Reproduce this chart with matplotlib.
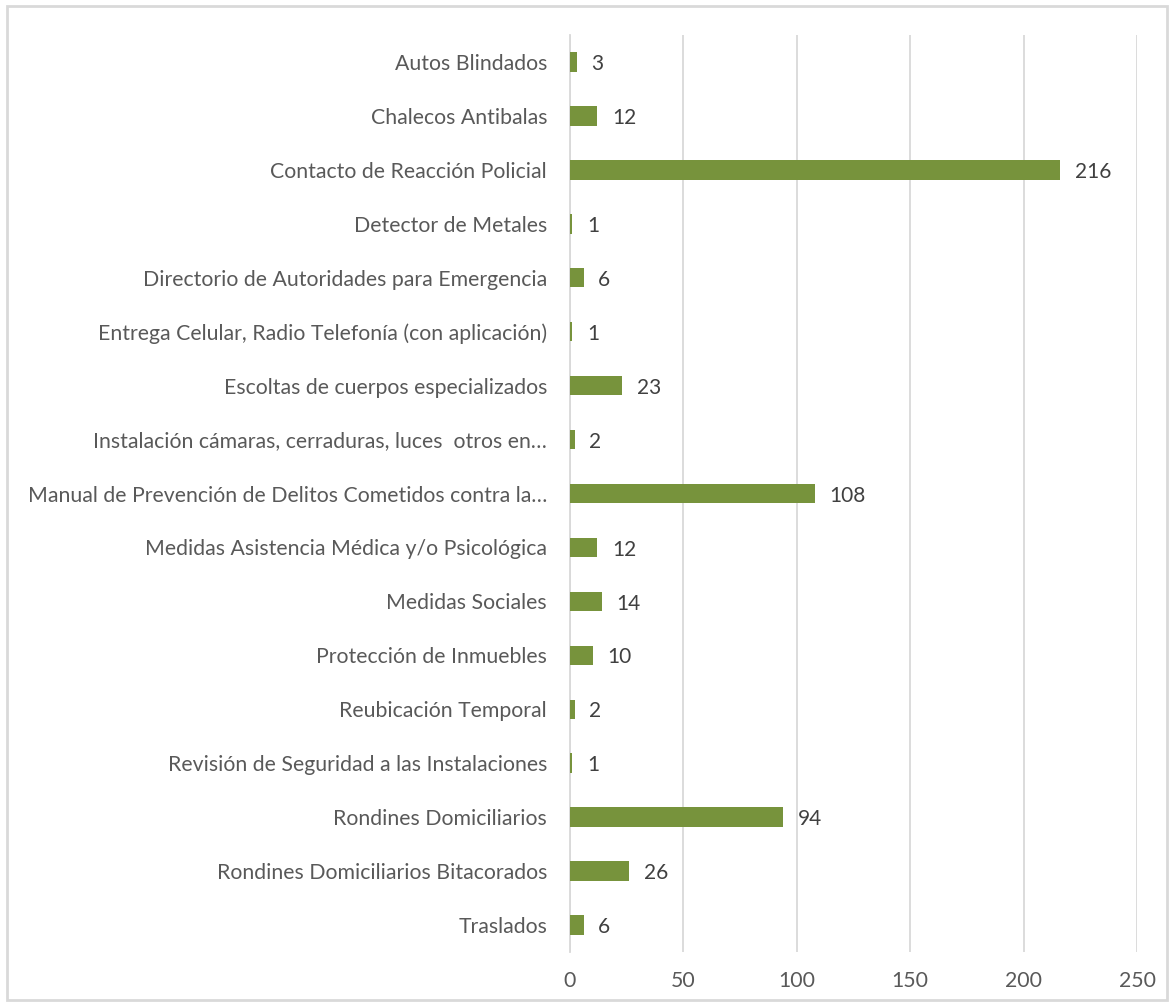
import matplotlib.pyplot as plt
from matplotlib.patches import Rectangle

categorias = [
    'Autos Blindados',
    'Chalecos Antibalas',
    'Contacto de Reacción Policial',
    'Detector de Metales',
    'Directorio de Autoridades para Emergencia',
    'Entrega Celular, Radio Telefonía (con aplicación)',
    'Escoltas de cuerpos especializados',
    'Instalación cámaras, cerraduras, luces  otros en…',
    'Manual de Prevención de Delitos Cometidos contra la…',
    'Medidas Asistencia Médica y/o Psicológica',
    'Medidas Sociales',
    'Protección de Inmuebles',
    'Reubicación Temporal',
    'Revisión de Seguridad a las Instalaciones',
    'Rondines Domiciliarios',
    'Rondines Domiciliarios Bitacorados',
    'Traslados',
]
valores = [3, 12, 216, 1, 6, 1, 23, 2, 108, 12, 14, 10, 2, 1, 94, 26, 6]
xticks = [0, 50, 100, 150, 200, 250]

plt.rcParams['font.family'] = ['Lato', 'DejaVu Sans']

fig = plt.figure(figsize=(11.75, 10.05), dpi=100, facecolor='w')
ax = fig.add_axes([570/1175, 1-952/1005, 567/1175, 917/1005])

pos = list(range(len(categorias)))
ax.barh(pos, valores, height=0.36, color='#77933C', zorder=3)
for p, v in zip(pos, valores):
    ax.text(v + 6.5, p + 0.04, str(v), va='center', ha='left', fontsize=15, color='#404040')

ax.set_ylim(len(categorias) - 0.5, -0.5)
ax.set_xlim(0, 250)
ax.set_yticks(pos)
ax.set_yticklabels(categorias, fontsize=15.3, color='#595959')
ax.set_xticks(xticks)
ax.set_xticklabels([str(t) for t in xticks], fontsize=15.3, color='#595959')
ax.tick_params(axis='y', length=0, pad=16.5)
ax.tick_params(axis='x', length=0, pad=14)
ax.grid(axis='x', color='#D9D9D9', linewidth=1.3, zorder=0)
for s in ['top', 'right', 'bottom']:
    ax.spines[s].set_visible(False)
ax.spines['left'].set_color('#D9D9D9')
ax.spines['left'].set_linewidth(1.3)

fig.patches.append(Rectangle((7/1175, 5/1005), 1160/1175, 994/1005, transform=fig.transFigure,
                             fill=False, edgecolor='#D9D9D9', linewidth=2))

fig.savefig('out.png', dpi=100)
